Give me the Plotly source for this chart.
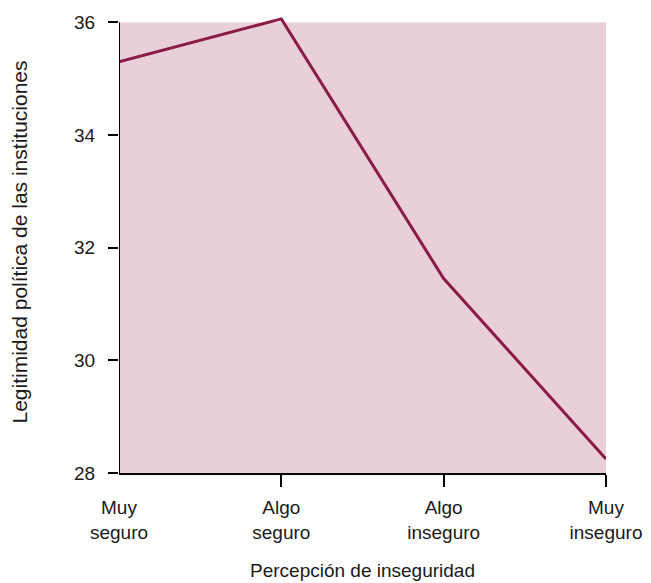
import plotly.graph_objects as go

categorias = ["Muy<br>seguro", "Algo<br>seguro", "Algo<br>inseguro", "Muy<br>inseguro"]
legitimidad = [35.3, 36.06, 31.45, 28.25]
y_ticks = [28, 30, 32, 34, 36]

x_pos = list(range(len(categorias)))
y_min, y_max = 28, 36

fig = go.Figure()
fig.add_trace(go.Scatter(x=x_pos, y=legitimidad, mode="lines",
                         line=dict(color="#8C1A47", width=3),
                         showlegend=False))

# fondo rosado solo hasta 36 (la línea sobresale un poco)
fig.add_shape(type="rect", xref="x", yref="y", x0=0, x1=3, y0=y_min, y1=y_max,
              fillcolor="#E8CFD8", line_width=0, layer="below")
fig.add_shape(type="line", xref="x", yref="y", x0=0, x1=0, y0=y_min, y1=y_max,
              line=dict(color="black", width=2))

familia = "Liberation Sans, Arial, sans-serif"
tick_font = dict(family=familia, size=19, color="#1a1a1a")

fig.update_layout(
    width=651, height=583,
    margin=dict(l=111, r=53, t=3, b=118),
    plot_bgcolor="white",
    paper_bgcolor="white",
    font=tick_font,
)
fig.update_xaxes(
    range=[0, 3], tickvals=x_pos, ticktext=categorias, automargin=False,
    showgrid=False, zeroline=False,
    showline=True, linecolor="black", linewidth=2,
    ticks="outside", ticklen=16, tickwidth=2, tickcolor="rgba(0,0,0,0)",
    minor=dict(tickvals=[1, 2, 3], ticks="outside", ticklen=12, tickwidth=2,
               tickcolor="black", showgrid=False),
    tickfont=tick_font,
    title=dict(text="Percepción de inseguridad", standoff=22,
               font=dict(family=familia, size=19, color="#1a1a1a")),
)
fig.update_yaxes(
    range=[y_min, 36.2], tickvals=y_ticks, automargin=False,
    showgrid=False, zeroline=False, showline=False,
    ticks="outside", ticklen=10, tickwidth=2, tickcolor="black",
    ticklabelstandoff=9, tickfont=tick_font,
    title=dict(text="Legitimidad política de las instituciones", standoff=43,
               font=dict(family=familia, size=21, color="#1a1a1a")),
)

fig.write_html("out.html")
